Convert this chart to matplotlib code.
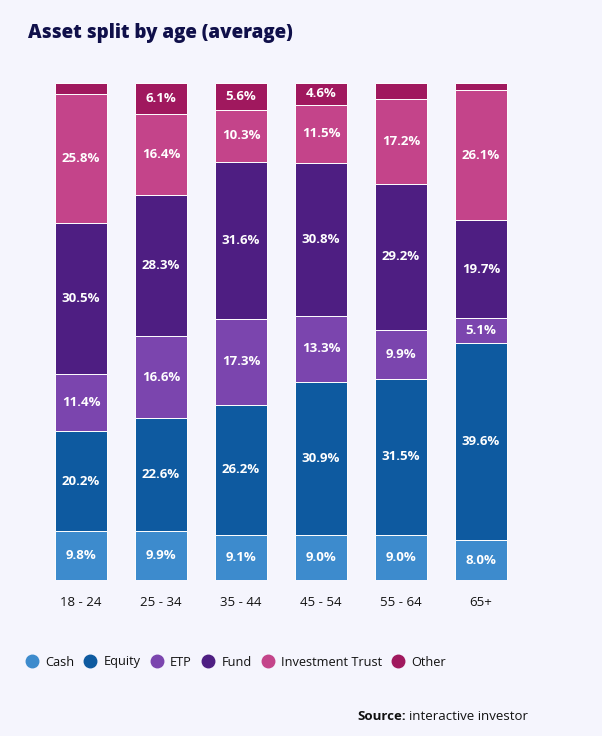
import numpy as np
import matplotlib.pyplot as plt
from matplotlib.lines import Line2D

# Data
age_groups = ["18 - 24", "25 - 34", "35 - 44", "45 - 54", "55 - 64", "65+"]
cash = [9.8, 9.9, 9.1, 9.0, 9.0, 8.0]
equity = [20.2, 22.6, 26.2, 30.9, 31.5, 39.6]
etp = [11.4, 16.6, 17.3, 13.3, 9.9, 5.1]
fund = [30.5, 28.3, 31.6, 30.8, 29.2, 19.7]
inv_trust = [25.8, 16.4, 10.3, 11.5, 17.2, 26.1]
other = [2.3, 6.1, 5.6, 4.6, 3.2, 1.5]

series_names = ["Cash", "Equity", "ETP", "Fund", "Investment Trust", "Other"]
colors = ["#3d8bcd", "#0e5aa0", "#7b45ae", "#4e1e82", "#c4448a", "#a0185e"]

bg = "#f5f5fd"
navy = "#10104a"
ink = "#111111"
font = "Open Sans"

fig = plt.figure(figsize=(6.02, 7.36), dpi=100, facecolor=bg)
ax = fig.add_axes([41 / 602, 156 / 736, 480 / 602, 497 / 736], facecolor=bg)

x = np.arange(len(age_groups))
bottom = np.zeros(len(age_groups))
for name, vals, col in zip(series_names,
                           [cash, equity, etp, fund, inv_trust, other], colors):
    vals = np.array(vals)
    ax.bar(x, vals, bottom=bottom, width=0.65, color=col,
           edgecolor="white", linewidth=0.7)
    for xi, b, v in zip(x, bottom, vals):
        if v >= 4:
            ax.text(xi, b + v / 2, f"{v:.1f}%", ha="center", va="center",
                    color="white", fontsize=9.5, fontweight="bold",
                    family=font)
    bottom += vals

ax.set_xlim(-0.5, 5.5)
ax.set_ylim(0, 100)
ax.axis("off")

for xi, lab in zip(x, age_groups):
    ax.text(xi, -3.2, lab, ha="center", va="top", fontsize=9.5,
            color=ink, family=font)

fig.text(28 / 602, 1 - 33 / 736, "Asset split by age (average)",
         fontsize=13.5, fontweight=800, color=navy, family=font,
         va="center", ha="left")

handles = [Line2D([], [], marker="o", linestyle="", markersize=9,
                  markerfacecolor=c, markeredgecolor=c) for c in colors]
leg = fig.legend(handles, series_names, loc="center left",
                 bbox_to_anchor=(14 / 602, 1 - 662 / 736), ncol=6,
                 frameon=False, handlelength=1.0, handletextpad=0.55,
                 columnspacing=0.75, prop={"family": font, "size": 9.2})
for t in leg.get_texts():
    t.set_color(ink)

src = fig.text(528 / 602, 1 - 716 / 736, "interactive investor", ha="right",
               va="center", fontsize=9.5, color=ink, family=font)
fig.canvas.draw()
bb = src.get_window_extent()
fig.text((bb.x0 - 3) / 602, 1 - 716 / 736, "Source:", ha="right",
         va="center", fontsize=9.5, fontweight="bold", color=ink, family=font)

fig.savefig("out.png", dpi=100, facecolor=bg)
